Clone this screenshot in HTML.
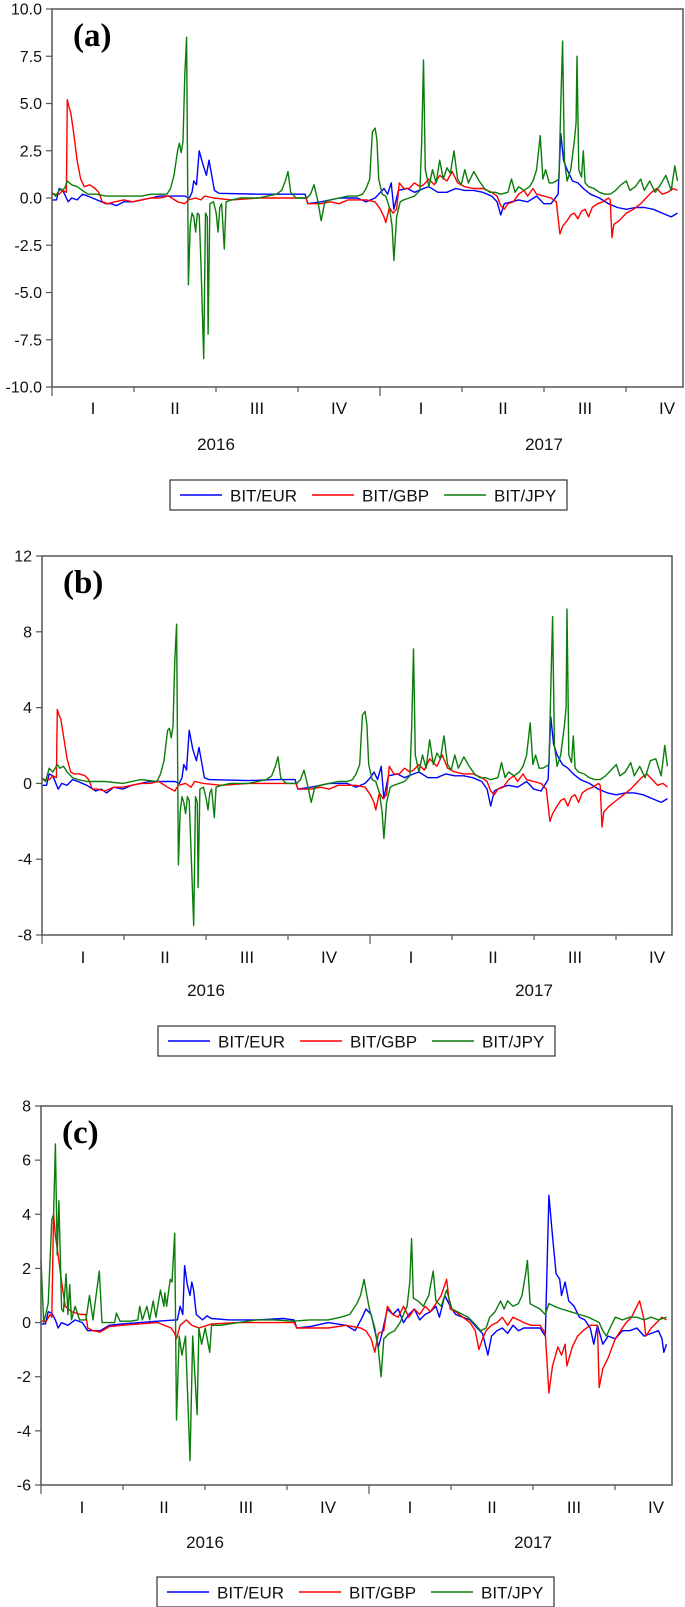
<!DOCTYPE html>
<html><head><meta charset="utf-8"><title>BIT exchange rate panels</title>
<style>
html,body{margin:0;padding:0;background:#fff;}
svg{display:block;font-family:"Liberation Sans",Arial,sans-serif;}
</style></head>
<body>
<svg id="fig" width="685" height="1607" viewBox="0 0 685 1607" xmlns="http://www.w3.org/2000/svg"></svg>
<script>
// ---------- data: [day since 2016-01-01, value] ----------
const quarterLabels = ["I","II","III","IV","I","II","III","IV"];
const yearLabels = ["2016","2017"];
const seriesNames = ["BIT/EUR","BIT/GBP","BIT/JPY"];

const aEur = [[0,-.1],[5,-.1],[8,.5],[12,.4],[18,-.2],[22,0],[28,-.1],[34,.2],[40,.1],[50,-.1],[60,-.3],[66,-.3],[72,-.4],[80,-.2],[90,-.2],[100,-.1],[110,0],[120,.1],[130,.1],[148,.1],[153,0],[156,.3],[158,.9],[161,.7],[164,2.5],[168,1.8],[172,1.2],[175,2.0],[181,.4],[186,.25],[230,.2],[260,.2],[282,.2],[285,-.3],[300,-.2],[320,0],[340,0],[350,-.2],[360,0],[366,.3],[370,.5],[374,.2],[378,.8],[381,-.6],[386,.4],[396,.5],[404,.3],[414,.5],[420,.6],[430,.3],[440,.3],[450,.5],[460,.4],[470,.4],[480,.3],[490,.1],[496,-.2],[500,-.9],[504,-.3],[512,-.2],[520,-.1],[530,-.2],[540,.1],[548,-.3],[556,-.3],[564,.2],[567,3.4],[570,2.0],[574,1.5],[580,.9],[586,.8],[592,.5],[600,.2],[610,0],[620,-.3],[630,-.5],[640,-.6],[650,-.5],[660,-.5],[670,-.6],[680,-.8],[690,-1.0],[697,-.8]];
const aGbp = [[0,.2],[8,.2],[12,.4],[16,.3],[17,5.2],[19,4.8],[21,4.5],[24,3.5],[28,2.0],[32,1.0],[36,.6],[42,.7],[48,.5],[52,.3],[56,-.2],[62,-.3],[70,-.2],[80,-.1],[90,-.2],[100,-.1],[110,0],[120,0],[130,.1],[140,-.2],[148,-.3],[152,-.1],[160,0],[166,-.1],[170,.1],[180,0],[200,-.1],[230,0],[260,0],[283,0],[285,-.3],[300,-.3],[310,-.2],[320,-.3],[330,-.1],[350,-.1],[360,-.2],[366,-.6],[370,-1.0],[372,-1.3],[376,-.5],[380,-.8],[384,-.6],[387,.8],[392,.5],[398,.5],[404,.8],[410,.6],[414,.7],[420,1.0],[426,.7],[432,1.2],[440,.9],[446,1.4],[452,.8],[460,.6],[470,.5],[480,.5],[490,.3],[496,.1],[500,-.4],[504,-.6],[508,-.3],[514,-.2],[520,.2],[526,.4],[530,.1],[536,.5],[540,.2],[548,.1],[556,0],[562,-.2],[566,-1.9],[569,-1.5],[574,-1.2],[578,-.9],[582,-.8],[586,-1.1],[590,-.7],[594,-.6],[598,-1.0],[602,-.5],[608,-.3],[614,-.2],[620,0],[622,-.1],[624,-2.1],[626,-1.4],[632,-1.2],[640,-.8],[648,-.6],[656,-.3],[662,0],[668,.3],[674,.5],[680,.2],[686,.3],[692,.5],[697,.4]];
const aJpy = [[0,.3],[4,.1],[8,.4],[14,.5],[17,.9],[22,.7],[28,.6],[34,.4],[40,.2],[50,.2],[60,.1],[70,.1],[90,.1],[100,.1],[110,.2],[128,.2],[132,.5],[136,1.2],[140,2.5],[142,2.9],[144,2.4],[146,3.0],[148,6.5],[150,8.5],[152,-4.6],[154,-1.5],[156,-.8],[158,-1.0],[160,-1.8],[162,-.8],[164,-.9],[166,-3.5],[169,-8.5],[171,-.8],[173,-1.0],[174,-7.2],[176,-.3],[180,-.2],[183,-.8],[185,-1.8],[187,-.5],[189,-.3],[192,-2.7],[194,-.2],[200,-.1],[210,0],[230,0],[240,.1],[250,.2],[256,.4],[260,.9],[263,1.4],[266,.3],[272,0],[284,0],[288,.2],[292,.7],[296,-.1],[300,-1.2],[304,-.2],[310,-.1],[320,0],[330,.1],[340,.1],[346,.2],[350,.5],[354,1.0],[357,3.5],[360,3.7],[362,3.1],[364,1.0],[368,.2],[372,.1],[376,-.5],[379,-1.5],[381,-3.3],[384,-1.0],[388,-.2],[392,-.1],[398,0],[404,.1],[408,.3],[410,.4],[412,3.0],[414,7.3],[416,1.5],[420,.6],[424,1.5],[428,.8],[432,2.0],[436,1.0],[440,1.6],[444,1.3],[448,2.5],[452,1.0],[456,.7],[460,1.5],[464,.8],[470,1.4],[476,.9],[482,.5],[488,.3],[494,.3],[500,.2],[508,.3],[512,1.0],[516,.3],[520,.6],[526,.4],[532,.6],[536,.9],[540,1.5],[544,3.3],[547,1.0],[550,1.5],[554,.8],[558,.8],[562,.9],[565,1.0],[567,5.0],[569,8.3],[571,2.0],[574,.9],[578,1.5],[582,3.0],[584,4.0],[585,7.5],[587,1.5],[590,1.1],[592,2.5],[594,.8],[598,.6],[604,.5],[610,.3],[616,.2],[622,.2],[628,.4],[634,.7],[640,.9],[644,.4],[650,.6],[656,1.0],[660,.4],[666,.9],[672,.3],[678,.7],[684,1.2],[690,.4],[694,1.7],[697,.9]];

const bEur = [[0,-.1],[5,-.1],[8,.5],[12,.4],[18,-.3],[22,0],[28,-.1],[34,.2],[40,.1],[50,-.1],[60,-.4],[66,-.3],[72,-.5],[80,-.2],[90,-.3],[100,-.1],[110,0],[120,.1],[130,.1],[148,.1],[153,0],[156,.3],[158,1.0],[161,.7],[164,2.8],[168,1.8],[172,1.2],[175,1.9],[181,.3],[186,.2],[230,.15],[260,.2],[282,.2],[285,-.3],[300,-.2],[320,0],[340,0],[350,-.2],[360,0],[366,.3],[370,.6],[374,.2],[378,.9],[381,-.8],[386,.4],[396,.5],[404,.3],[414,.5],[420,.6],[430,.3],[440,.3],[450,.5],[460,.4],[470,.4],[480,.3],[490,.1],[496,-.3],[500,-1.2],[504,-.4],[512,-.2],[520,-.1],[530,-.2],[540,.1],[548,-.3],[556,-.4],[564,.2],[567,3.5],[570,2.1],[574,1.5],[580,1.0],[586,.8],[592,.5],[600,.2],[610,0],[620,-.3],[630,-.5],[640,-.6],[650,-.5],[660,-.5],[670,-.6],[680,-.8],[690,-1.0],[697,-.8]];
const bGbp = [[0,.2],[8,.2],[12,.4],[16,.3],[17,3.9],[19,3.6],[21,3.4],[24,2.5],[28,1.3],[32,.6],[36,.5],[42,.5],[48,.4],[52,.2],[56,-.3],[62,-.3],[70,-.4],[80,-.2],[90,-.2],[100,-.1],[110,0],[120,0],[130,.1],[140,-.2],[148,-.4],[152,-.1],[160,0],[166,-.2],[170,.1],[180,0],[200,-.1],[230,0],[260,0],[283,0],[285,-.3],[300,-.3],[310,-.2],[320,-.3],[330,-.1],[350,-.1],[360,-.2],[366,-.6],[370,-1.0],[372,-1.4],[376,-.5],[380,-.8],[384,-.6],[387,.9],[392,.5],[398,.5],[404,.8],[410,.6],[414,.7],[420,1.0],[426,.7],[432,1.3],[440,.9],[446,1.5],[452,.8],[460,.6],[470,.5],[480,.5],[490,.3],[496,.1],[500,-.4],[504,-.6],[508,-.3],[514,-.2],[520,.2],[526,.4],[530,.1],[536,.5],[540,.2],[548,.1],[556,0],[562,-.3],[566,-2.0],[569,-1.6],[574,-1.2],[578,-.9],[582,-.8],[586,-1.2],[590,-.7],[594,-.6],[598,-1.0],[602,-.5],[608,-.3],[614,-.2],[620,0],[622,-.1],[624,-2.3],[626,-1.5],[632,-1.2],[640,-.9],[648,-.6],[656,-.3],[662,0],[668,.3],[674,.5],[680,.2],[686,-.1],[692,0],[697,-.2]];
const bJpy = [[0,.3],[4,.1],[8,.8],[12,.6],[17,1.0],[20,.8],[24,.9],[28,.6],[34,.3],[40,.2],[50,.1],[60,.1],[70,.1],[90,0],[100,.1],[110,.2],[128,.1],[132,.5],[136,1.2],[140,2.8],[142,2.9],[144,2.4],[146,3.0],[148,6.5],[150,8.4],[152,-4.3],[154,-1.5],[156,-.7],[158,-1.0],[160,-1.6],[162,-.7],[164,-.9],[166,-3.5],[169,-7.5],[171,-.7],[173,-1.0],[174,-5.5],[176,-.3],[180,-.2],[183,-.8],[185,-1.4],[187,-.5],[189,-.3],[192,-1.8],[194,-.2],[200,-.1],[210,0],[230,0],[240,.1],[250,.2],[256,.4],[260,.9],[263,1.4],[266,.3],[272,0],[284,0],[288,.2],[292,.7],[296,-.1],[300,-1.0],[304,-.2],[310,-.1],[320,0],[330,.1],[340,.1],[346,.2],[350,.5],[354,1.0],[357,3.6],[360,3.8],[362,3.1],[364,1.0],[368,.2],[372,.1],[376,-.5],[379,-1.5],[381,-2.9],[384,-1.0],[388,-.2],[392,-.1],[398,0],[404,.1],[408,.3],[410,.4],[412,3.0],[414,7.1],[416,1.5],[420,.6],[424,1.5],[428,.8],[432,2.3],[436,1.0],[440,1.6],[444,1.3],[448,2.5],[452,1.0],[456,.7],[460,1.5],[464,.8],[470,1.4],[476,.9],[482,.5],[488,.3],[494,.3],[500,.2],[508,.3],[512,1.1],[516,.3],[520,.6],[526,.4],[532,.6],[536,.9],[540,1.5],[544,3.2],[547,1.0],[550,1.5],[554,.8],[558,.8],[562,.9],[565,1.0],[567,5.0],[569,8.8],[571,2.0],[574,.9],[578,1.5],[582,3.0],[584,4.0],[585,9.2],[587,1.5],[590,1.1],[592,2.5],[594,.8],[598,.6],[604,.5],[610,.3],[616,.2],[622,.2],[628,.4],[634,.7],[640,1.0],[644,.4],[650,.6],[656,1.1],[660,.4],[666,.9],[672,.3],[678,1.2],[684,1.3],[690,.4],[694,2.0],[697,.9]];

const cEur = [[0,-.05],[5,-.05],[8,.4],[12,.35],[16,.1],[19,-.2],[23,0],[30,-.1],[38,.1],[46,0],[52,-.3],[60,-.3],[66,-.3],[76,-.1],[90,-.05],[110,0],[130,.05],[150,.1],[152,.1],[155,.6],[158,.3],[160,2.1],[163,1.4],[166,1.0],[168,1.5],[170,1.2],[173,.3],[180,.1],[185,.25],[190,.15],[210,.1],[240,.1],[270,.15],[282,.1],[285,-.2],[300,-.15],[320,0],[340,-.1],[350,-.3],[358,.2],[362,.5],[368,.3],[372,-.3],[376,-.9],[380,-.4],[386,.5],[392,.3],[398,.5],[404,0],[410,.3],[416,.5],[422,.1],[428,.3],[434,.4],[440,.6],[444,.2],[450,1.0],[456,.6],[462,.3],[470,.2],[478,.1],[486,-.2],[492,-.4],[498,-1.2],[502,-.5],[508,-.3],[514,-.2],[520,-.4],[526,-.1],[532,-.3],[538,-.2],[546,-.2],[556,-.2],[562,-.5],[566,4.7],[570,3.2],[574,1.8],[578,1.6],[580,1.0],[584,1.5],[588,.8],[594,.6],[600,.2],[606,.1],[612,-.2],[616,-.8],[620,-.1],[626,-.8],[632,-.5],[640,-.6],[648,-.3],[656,-.3],[664,-.2],[672,-.5],[680,-.4],[688,-.3],[692,-.6],[694,-1.1],[697,-.8]];
const cGbp = [[0,.05],[6,.05],[10,.3],[12,.2],[14,4.0],[16,3.2],[19,2.5],[23,1.5],[27,.6],[34,.4],[44,.3],[50,.3],[52,-.2],[58,-.3],[66,-.35],[76,-.15],[90,-.1],[110,-.05],[130,0],[145,-.2],[149,-.4],[151,-.6],[155,-.1],[162,.1],[168,-.1],[176,-.2],[190,-.05],[220,0],[260,0],[282,0],[285,-.2],[300,-.2],[320,-.2],[340,-.1],[356,-.2],[362,-.3],[368,-.6],[372,-1.1],[376,-.4],[382,-.3],[386,.6],[392,.3],[398,.2],[404,.6],[410,.2],[416,.5],[422,.3],[428,.6],[434,.4],[440,.7],[446,1.0],[452,1.6],[456,.5],[462,.4],[470,.2],[478,0],[484,-.3],[488,-1.0],[492,-.6],[496,-.3],[502,-.1],[508,0],[514,.2],[520,-.1],[526,.2],[532,.1],[538,0],[546,-.1],[556,-.1],[562,-.4],[566,-2.6],[570,-1.6],[576,-.9],[580,-1.2],[584,-.8],[586,-1.6],[592,-.9],[598,-.5],[604,-.3],[612,-.1],[620,-.1],[622,-2.4],[626,-1.7],[632,-1.3],[640,-.6],[646,-.3],[652,0],[658,.2],[664,.6],[667,.8],[672,.1],[674,-.5],[680,-.2],[686,0],[692,.2],[697,.1]];
const cJpy = [[0,2.3],[3,0],[8,.7],[12,3.8],[14,4.0],[16,6.6],[18,2.5],[20,4.5],[23,.5],[25,.4],[28,1.8],[30,.3],[32,1.4],[34,.1],[38,.6],[43,.1],[50,.1],[54,1.0],[58,.1],[61,.9],[65,1.9],[68,0],[82,0],[84,.35],[88,.05],[100,.05],[108,.1],[110,.6],[113,.1],[118,.6],[121,.1],[125,.8],[128,.2],[133,1.2],[137,.6],[138,1.1],[140,.6],[144,1.6],[146,1.5],[149,3.3],[151,-3.6],[154,-.5],[157,-1.2],[161,-.5],[166,-5.1],[169,-.5],[174,-3.4],[176,-.2],[179,-.8],[183,-.2],[188,-1.1],[190,-.1],[200,-.1],[220,0],[240,.1],[260,.1],[280,.05],[300,.1],[320,.1],[334,.2],[344,.3],[352,.7],[356,1.0],[360,1.6],[362,1.2],[366,.5],[372,-.2],[376,-1.0],[379,-2.0],[382,-.6],[388,-.4],[394,-.3],[400,0],[404,.3],[408,.6],[411,1.5],[413,3.1],[415,.9],[420,.8],[426,.6],[432,1.0],[437,1.9],[440,.8],[446,.6],[452,1.2],[458,.5],[464,.4],[470,.3],[476,.2],[482,0],[490,-.3],[496,-.2],[500,.2],[506,.4],[512,.8],[516,.5],[520,.8],[526,.6],[532,.7],[536,1.0],[540,1.8],[542,2.3],[545,.7],[550,.6],[556,.5],[562,.3],[566,.7],[572,.6],[580,.5],[590,.4],[600,.3],[610,.2],[616,.1],[622,0],[626,-.3],[630,-.5],[634,-.2],[640,.2],[648,.1],[656,.2],[664,.2],[672,.1],[680,.2],[688,.1],[697,.2]];

const panels = [
  {id:"a", label:"(a)", L:52, R:683, T:9, B:387, ymin:-10, ymax:10, yticks:[-10,-7.5,-5,-2.5,0,2.5,5,7.5,10], dec:1, qY:414, yrY:450, legX:170, legY:480, series:[aEur,aGbp,aJpy]},
  {id:"b", label:"(b)", L:42, R:672, T:556, B:935, ymin:-8, ymax:12, yticks:[-8,-4,0,4,8,12], dec:0, qY:963, yrY:996, legX:158, legY:1026, series:[bEur,bGbp,bJpy]},
  {id:"c", label:"(c)", L:41, R:672, T:1106, B:1485, ymin:-6, ymax:8, yticks:[-6,-4,-2,0,2,4,6,8], dec:0, qY:1513, yrY:1548, legX:157, legY:1577, series:[cEur,cGbp,cJpy]}
];
const colors = ["#0000ff","#ff0000","#0a7d0a"];
const totalDays = 731;
const NS = "http://www.w3.org/2000/svg";
const svg = document.getElementById("fig");

function mk(tag, attrs, parent){
  const e = document.createElementNS(NS, tag);
  for (const k in attrs) e.setAttribute(k, attrs[k]);
  parent.appendChild(e);
  return e;
}

panels.forEach(p => {
  const qw = 82;
  const xs = d => p.L + d * (qw*8) / totalDays;
  const ys = v => p.B - (v - p.ymin) / (p.ymax - p.ymin) * (p.B - p.T);
  const g = mk("g", {}, svg);
  
  

  // series
  p.series.forEach((s, i) => {
    const d = s.map((pt, j) => (j ? "L" : "M") + xs(pt[0]).toFixed(1) + "," + ys(pt[1]).toFixed(1)).join("");
    const path = mk("path", {d:d, fill:"none", stroke:colors[i], "stroke-width":"1.4", "stroke-linejoin":"round"}, g);
    
    
  });

  // frame
  const fr = mk("rect", {x:p.L, y:p.T, width:p.R-p.L, height:p.B-p.T, fill:"none", stroke:"#555", "stroke-width":"1.5"}, g);
  
  

  // y ticks
  p.yticks.forEach(v => {
    const y = ys(v);
    const t = mk("line", {x1:p.L-6, x2:p.L, y1:y, y2:y, stroke:"#555", "stroke-width":"1.2"}, g);
    
    
    const lb = mk("text", {x:p.L-10, y:y+5.5, "text-anchor":"end", "font-size":"16", fill:"#111"}, g);
    
    
    lb.textContent = v.toFixed(p.dec);
  });

  // x ticks & labels
  for (let q = 0; q < 8; q++) {
    const x = p.L + q*qw;
    const long = (q === 0 || q === 4);
    const t = mk("line", {x1:x, x2:x, y1:p.B, y2:p.B + (long ? 9 : 5), stroke:"#555", "stroke-width":"1.2"}, g);
    
    
    const lb = mk("text", {x:x + qw/2, y:p.qY, "text-anchor":"middle", "font-size":"17", fill:"#111"}, g);
    
    
    lb.textContent = quarterLabels[q];
  }
  yearLabels.forEach((yl, k) => {
    const lb = mk("text", {x:p.L + qw*2 + k*qw*4, y:p.yrY, "text-anchor":"middle", "font-size":"17", fill:"#111"}, g);
    
    
    lb.textContent = yl;
  });

  // panel letter
  const pl = mk("text", {x:p.L+21, y:p.T+37, "font-family":"Liberation Serif, serif", "font-weight":"bold", "font-size":"33", fill:"#000"}, g);
  
  
  pl.textContent = p.label;

  // legend
  const lg = mk("g", {}, g);
  
  
  const box = mk("rect", {x:p.legX, y:p.legY, width:397, height:30, fill:"#fff", stroke:"#333", "stroke-width":"1.2"}, lg);
  
  
  seriesNames.forEach((n, i) => {
    const ox = p.legX + 10 + i*132;
    const ln = mk("line", {x1:ox, x2:ox+42, y1:p.legY+15, y2:p.legY+15, stroke:colors[i], "stroke-width":"1.5"}, lg);
    
    
    const tx = mk("text", {x:ox+50, y:p.legY+21.5, "font-size":"17", fill:"#111"}, lg);
    
    
    tx.textContent = n;
  });
});
</script>
</body></html>
